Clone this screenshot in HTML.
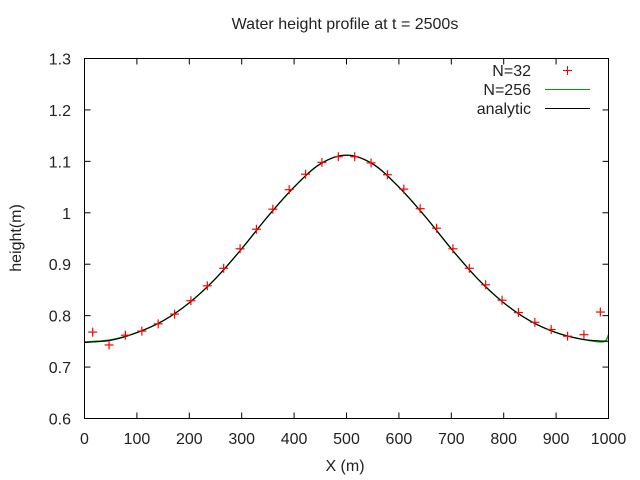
<!DOCTYPE html>
<html><head><meta charset="utf-8"><style>
body{margin:0;background:#fff;}
svg{display:block;font-family:"Liberation Sans",sans-serif;}
</style></head><body>
<svg id="chart" width="640" height="480" xmlns="http://www.w3.org/2000/svg">
<text x="345" y="29" font-size="16" text-anchor="middle" fill="#222">Water height profile at t = 2500s</text>
<text x="345" y="471" font-size="16" text-anchor="middle" fill="#222">X (m)</text>
<text transform="translate(21,238) rotate(-90)" font-size="16" text-anchor="middle" fill="#222">height(m)</text>
<g id="axes"></g>
<g id="series"></g>
<rect x="84.5" y="58.5" width="524" height="360" fill="none" stroke="#000" stroke-width="1"/>
<g font-size="16" fill="#222">
<text x="531" y="76" text-anchor="end">N=32</text>
<text x="531" y="95" text-anchor="end">N=256</text>
<text x="531" y="114" text-anchor="end">analytic</text>
<line x1="545" y1="89.5" x2="590" y2="89.5" stroke="#00a000" stroke-width="1"/>
<line x1="545" y1="108.5" x2="590" y2="108.5" stroke="#000" stroke-width="1"/>
<g stroke="#f00" stroke-width="1"><line x1="563" y1="70.5" x2="572" y2="70.5"/><line x1="567.5" y1="66" x2="567.5" y2="75"/></g>
</g>
</svg>
<script>
const xTicks=[0,100,200,300,400,500,600,700,800,900,1000];
const yTicks=[0.6,0.7,0.8,0.9,1,1.1,1.2,1.3];
const n32X=[15.6,46.9,78.1,109.4,140.6,171.9,203.1,234.4,265.6,296.9,328.1,359.4,390.6,421.9,453.1,484.4,515.6,546.9,578.1,609.4,640.6,671.9,703.1,734.4,765.6,796.9,828.1,859.4,890.6,921.9,953.1,984.4];
const n32Y=[0.768,0.743,0.762,0.770,0.784,0.803,0.829,0.858,0.892,0.930,0.968,1.007,1.045,1.075,1.098,1.109,1.109,1.097,1.074,1.046,1.008,0.970,0.930,0.892,0.860,0.830,0.806,0.787,0.773,0.760,0.763,0.807];
const anX=[0,50,100,150,200,250,300,350,400,450,500,550,600,650,700,750,800,850,900,950,1000];
const anY=[0.748,0.752,0.767,0.790,0.825,0.872,0.930,0.993,1.050,1.095,1.112,1.095,1.050,0.993,0.930,0.872,0.825,0.790,0.767,0.754,0.750];
const n256X=[0,50,100,150,200,250,300,350,400,450,500,550,600,650,700,750,800,850,900,950,990,1000];
const n256Y=[0.749,0.753,0.767,0.790,0.825,0.872,0.930,0.993,1.050,1.095,1.112,1.095,1.050,0.993,0.930,0.872,0.825,0.790,0.767,0.754,0.749,0.763];

const NS="http://www.w3.org/2000/svg";
const L=84.5,R=608.5,T=58.5,B=418.5;
function sx(v){return L+(v-0)/(1000-0)*(R-L);}
function sy(v){return B-(v-0.6)/(1.3-0.6)*(B-T);}
function mk(tag,attrs,parent){const e=document.createElementNS(NS,tag);for(const k in attrs)e.setAttribute(k,attrs[k]);parent.appendChild(e);return e;}
const axes=document.getElementById('axes');
xTicks.forEach(v=>{
  const x=sx(v);
  const t=mk('line',{x1:x,y1:B,x2:x,y2:B-6,stroke:'#000'},axes);
  
  
  const t2=mk('line',{x1:x,y1:T,x2:x,y2:T+6,stroke:'#000'},axes);
  
  
  const lb=mk('text',{x:x,y:444,'font-size':16,'text-anchor':'middle',fill:'#222'},axes);
  lb.textContent=String(v);
  
  
});
yTicks.forEach(v=>{
  const y=sy(v);
  const t=mk('line',{x1:L,y1:y,x2:L+6,y2:y,stroke:'#000'},axes);
  
  
  const t2=mk('line',{x1:R,y1:y,x2:R-6,y2:y,stroke:'#000'},axes);
  
  
  const lb=mk('text',{x:71,y:y+6,'font-size':16,'text-anchor':'end',fill:'#222'},axes);
  lb.textContent=String(v);
  
  
});
function smoothPath(xs,ys){
  const p=xs.map((x,i)=>[sx(x),sy(ys[i])]);
  let d='M'+p[0][0]+','+p[0][1];
  for(let i=0;i<p.length-1;i++){
    const p0=p[Math.max(0,i-1)],p1=p[i],p2=p[i+1],p3=p[Math.min(p.length-1,i+2)];
    const c1=[p1[0]+(p2[0]-p0[0])/6,p1[1]+(p2[1]-p0[1])/6];
    const c2=[p2[0]-(p3[0]-p1[0])/6,p2[1]-(p3[1]-p1[1])/6];
    d+=' C'+c1[0]+','+c1[1]+' '+c2[0]+','+c2[1]+' '+p2[0]+','+p2[1];
  }
  return d;
}
const series=document.getElementById('series');
const g256=mk('path',{d:smoothPath(n256X,n256Y),fill:'none',stroke:'#00a000','stroke-width':1.3},series);


const gan=mk('path',{d:smoothPath(anX,anY),fill:'none',stroke:'#000','stroke-width':1.2},series);


n32X.forEach((xv,i)=>{
  const x=sx(xv),y=sy(n32Y[i]);
  const g=mk('g',{stroke:'#f00','stroke-width':1.2},series);
  
  
  mk('line',{x1:x-4.5,y1:y,x2:x+4.5,y2:y},g);
  mk('line',{x1:x,y1:y-4.5,x2:x,y2:y+4.5},g);
});
</script>
</body></html>
